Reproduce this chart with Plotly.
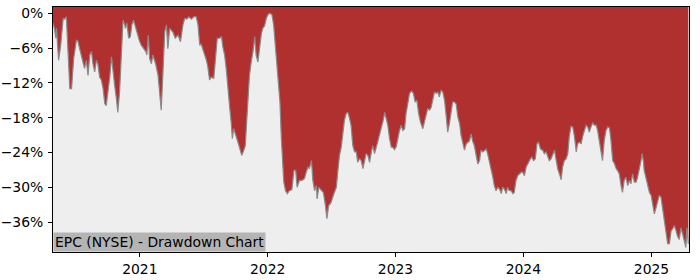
import pandas as pd
import plotly.graph_objects as go

start_date = "2020-04-28"
day_offsets = [
    0, 4, 8, 10, 16, 22, 29, 33, 38, 43, 48, 53, 59, 67, 71, 76, 81, 86, 90, 95,
    100, 105, 110, 114, 119, 124, 128, 133, 138, 143, 148, 152, 157, 162, 167, 171, 176, 181, 185, 190,
    195, 200, 205, 207, 211, 216, 221, 225, 230, 236, 243, 247, 252, 259, 265, 268, 272, 276, 281, 285,
    293, 300, 304, 309, 314, 319, 324, 328, 333, 342, 349, 357, 364, 371, 376, 382, 388, 395, 402, 409,
    414, 419, 423, 431, 438, 442, 447, 452, 459, 464, 469, 476, 481, 485, 490, 495, 499, 504, 509, 512,
    516, 521, 526, 531, 536, 539, 545, 549, 553, 556, 561, 566, 571, 576, 580, 585, 590, 595, 599, 604,
    609, 613, 618, 625, 630, 635, 640, 644, 648, 652, 655, 659, 664, 669, 675, 682, 688, 693, 697, 704,
    711, 718, 723, 728, 732, 738, 742, 747, 752, 754, 759, 766, 772, 778, 782, 787, 794, 802, 809, 813,
    818, 823, 828, 832, 837, 842, 847, 851, 856, 861, 866, 870, 875, 880, 885, 889, 894, 899, 904, 909,
    913, 918, 923, 927, 932, 937, 942, 947, 951, 956, 961, 966, 970, 975, 980, 984, 989, 994, 999, 1004,
    1008, 1013, 1018, 1024, 1029, 1034, 1039, 1044, 1049, 1056, 1061, 1066, 1070, 1075, 1080, 1084, 1089, 1094, 1099, 1103,
    1108, 1113, 1118, 1123, 1127, 1132, 1137, 1141, 1146, 1151, 1156, 1161, 1165, 1170, 1175, 1180, 1184, 1189, 1194, 1198,
    1203, 1208, 1213, 1218, 1222, 1227, 1232, 1237, 1241, 1246, 1251, 1256, 1260, 1265, 1270, 1275, 1280, 1284, 1289, 1294,
    1298, 1303, 1308, 1313, 1317, 1322, 1327, 1332, 1337, 1341, 1346, 1351, 1357, 1363, 1367, 1372, 1377, 1382, 1386, 1392,
    1398, 1403, 1408, 1412, 1417, 1422, 1427, 1432, 1436, 1441, 1446, 1451, 1455, 1460, 1465, 1470, 1474, 1479, 1484, 1489,
    1494, 1498, 1503, 1508, 1512, 1517, 1522, 1527, 1531, 1536, 1541, 1546, 1551, 1555, 1560, 1565, 1569, 1574, 1579, 1584,
    1589, 1593, 1598, 1603, 1608, 1612, 1617, 1622, 1626, 1631, 1636, 1641, 1646, 1650, 1655, 1660, 1665, 1669, 1674, 1679,
    1682, 1686, 1688, 1693, 1698, 1703, 1708, 1712, 1717, 1722, 1726, 1731, 1736, 1741, 1745, 1750, 1755, 1760, 1765, 1769,
    1774, 1779, 1783, 1788, 1793, 1798, 1803, 1807, 1810, 1814,
]
drawdown_pct = [
    -1.7, -2.6, -4.3, -2.6, -8.1, -5.5, -0.9, -1.0, -0.6, -7.2, -13.0, -13.0, -7.8, -4.6, -4.8, -6.1, -7.5, -8.7, -9.5, -8.1,
    -10.7, -7.2, -6.6, -8.7, -10.1, -8.1, -8.7, -11.0, -11.5, -13.0, -15.6, -15.9, -13.6, -11.0, -7.5, -10.1, -12.4, -14.7, -17.1, -13.6,
    -7.8, -1.2, -2.0, -2.6, -1.7, -4.3, -4.0, -2.0, -1.2, -2.6, -3.75, -4.8, -5.5, -6.1, -6.6, -7.2, -3.75, -7.8, -8.7, -7.2,
    -8.7, -10.7, -13.6, -16.7, -10.1, -3.2, -2.0, -6.1, -2.6, -3.2, -4.3, -3.75, -4.9, -2.0, -0.9, -1.0, -0.6, -1.0, -0.6, -0.6,
    -2.0, -5.5, -5.3, -6.6, -8.1, -9.2, -11.5, -11.0, -11.2, -7.8, -4.3, -4.3, -4.0, -5.8, -7.2, -9.8, -13.0, -15.9, -19.0, -21.6,
    -19.9, -20.8, -21.6, -22.8, -23.9, -24.5, -23.6, -22.8, -18.7, -14.7, -10.7, -8.4, -6.6, -4.0, -7.2, -8.4, -5.5, -3.5, -2.6, -2.2,
    -0.9, -0.3, 0.0, -0.2, -2.0, -6.1, -8.9, -11.8, -15.3, -21.6, -26.2, -29.1, -30.6, -31.1, -30.6, -30.4, -27.1, -27.1, -30.0, -28.8,
    -28.8, -28.5, -27.4, -26.5, -26.8, -25.4, -28.8, -30.6, -29.7, -32.0, -30.0, -30.4, -30.9, -33.2, -35.4, -33.2, -32.6, -31.1, -30.0, -27.4,
    -24.5, -23.1, -20.5, -18.5, -17.3, -17.1, -18.2, -19.3, -22.8, -23.9, -23.9, -25.7, -25.1, -25.4, -26.8, -25.4, -24.2, -24.5, -25.7, -23.9,
    -22.8, -24.2, -22.8, -22.2, -21.0, -19.9, -18.7, -17.1, -18.2, -19.3, -21.6, -23.1, -23.1, -23.5, -23.0, -21.6, -20.3, -19.3, -20.2, -19.9,
    -17.3, -15.6, -13.8, -13.4, -13.8, -15.3, -15.0, -17.3, -18.7, -19.9, -18.5, -17.0, -16.4, -16.7, -16.2, -15.0, -13.6, -13.8, -13.6, -14.4,
    -13.3, -13.6, -15.0, -17.9, -20.5, -19.0, -16.7, -15.3, -15.3, -15.6, -17.9, -19.0, -21.0, -22.5, -23.6, -22.5, -22.2, -22.0, -20.8, -22.0,
    -22.8, -24.8, -26.0, -25.4, -23.6, -23.9, -23.6, -23.4, -24.2, -25.4, -27.1, -28.3, -29.7, -30.6, -30.0, -30.3, -31.1, -30.0, -30.3, -31.1,
    -30.0, -30.6, -30.6, -31.1, -30.9, -28.8, -28.0, -27.7, -27.4, -27.4, -28.0, -26.5, -25.7, -25.1, -24.8, -25.4, -25.1, -22.5, -22.2, -23.4,
    -23.6, -24.2, -23.9, -24.5, -25.4, -25.1, -24.2, -23.6, -25.1, -26.8, -27.7, -28.7, -26.5, -25.4, -25.1, -24.2, -21.3, -19.5, -19.6, -21.3,
    -23.9, -22.5, -22.2, -22.5, -21.3, -20.2, -19.3, -19.6, -20.5, -19.6, -18.9, -19.3, -19.3, -20.2, -21.9, -23.6, -25.4, -21.9, -20.2, -19.6,
    -19.8, -21.8, -25.4, -25.9, -26.8, -27.1, -27.7, -29.7, -30.9, -28.8, -28.3, -29.7, -28.8, -29.4, -27.7, -29.1, -29.1, -28.3, -27.1, -25.4,
    -24.2, -25.6, -27.1, -28.3, -30.0, -30.9, -31.4, -32.9, -34.6, -33.5, -32.3, -31.4, -31.7, -34.0, -35.8, -38.1, -39.7, -39.7, -37.5, -37.2,
    -36.6, -37.5, -38.4, -39.0, -37.0, -38.1, -39.5, -40.4, -37.0, -39.8,
]
y_tick_values = [0, -6, -12, -18, -24, -30, -36]
y_tick_labels = ["0%", "\u22126%", "\u221212%", "\u221218%", "\u221224%", "\u221230%", "\u221236%"]
x_tick_values = ["2021-01-01", "2022-01-01", "2023-01-01", "2024-01-01", "2025-01-01"]
x_tick_labels = ["2021", "2022", "2023", "2024", "2025"]
chart_label = "EPC (NYSE) - Drawdown Chart"

dates = pd.Timestamp(start_date) + pd.to_timedelta(day_offsets, unit="D")
Y_MIN, Y_MAX = -41.16, 1.085

fig = go.Figure()
fig.add_trace(go.Scatter(
    x=dates, y=drawdown_pct, mode="lines",
    line=dict(color="#8a8a8a", width=1.2), hoverinfo="skip", showlegend=False,
))
fig.add_trace(go.Scatter(
    x=dates, y=[Y_MAX] * len(dates), mode="lines",
    line=dict(color="rgba(0,0,0,0)", width=0), fill="tonexty",
    fillcolor="#b03030", hoverinfo="skip", showlegend=False,
))

font = dict(family="DejaVu Sans", size=13.9, color="#000000")
fig.update_layout(
    width=700, height=280,
    margin=dict(l=53, r=11, t=7, b=28),
    paper_bgcolor="#ffffff", plot_bgcolor="#eeeeee",
    font=font,
    xaxis=dict(
        range=[dates[0], dates[-1] + pd.Timedelta(days=2)],
        tickvals=x_tick_values, ticktext=x_tick_labels, automargin=False,
        showgrid=False, zeroline=False, showline=True, linecolor="#000000", linewidth=1,
        mirror=True, ticks="outside", ticklen=4, tickcolor="#000000", tickfont=font,
    ),
    yaxis=dict(
        range=[Y_MIN, Y_MAX], automargin=False,
        tickvals=y_tick_values, ticktext=y_tick_labels,
        showgrid=False, zeroline=False, showline=True, linecolor="#000000", linewidth=1,
        mirror=True, ticks="outside", ticklen=4, tickcolor="#000000", tickfont=font,
        ticklabelstandoff=2,
    ),
    annotations=[dict(
        text=chart_label, xref="paper", yref="paper", x=0, y=0,
        xanchor="left", yanchor="bottom", showarrow=False,
        bgcolor="#b4b4b4", borderpad=1, font=font,
    )],
)
fig.write_html("out.html")
